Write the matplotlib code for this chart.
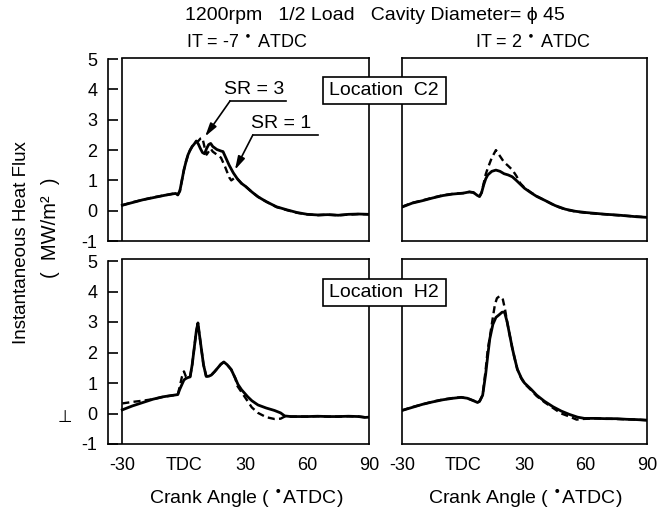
import matplotlib
matplotlib.use("Agg")
import matplotlib.pyplot as plt
from matplotlib.patches import Rectangle

plt.rcParams['font.family'] = ['Liberation Sans', 'DejaVu Sans']

# ---------------- data ----------------
# Top-left: Location C2, IT = -7 ATDC
c2a_sr1_x = [-30, -25, -20, -15, -10, -6, -4, -3, -2, -1, 0, 1, 2, 3, 4, 5, 6, 7, 8, 9, 10, 11, 12, 13, 14, 16, 18, 19, 20, 22, 24, 26, 28, 30, 33, 36, 40, 45, 50, 55, 60, 65, 70, 75, 80, 85, 90]
c2a_sr1_y = [0.18, 0.27, 0.36, 0.43, 0.50, 0.55, 0.57, 0.52, 0.65, 1.00, 1.35, 1.62, 1.85, 2.00, 2.12, 2.20, 2.30, 2.20, 2.05, 1.92, 1.88, 2.05, 2.18, 2.22, 2.12, 2.02, 1.97, 1.95, 1.80, 1.50, 1.25, 1.05, 0.90, 0.80, 0.62, 0.46, 0.30, 0.13, 0.03, -0.06, -0.12, -0.14, -0.13, -0.15, -0.12, -0.11, -0.12]
c2a_sr3_x = [-30, -25, -20, -15, -10, -6, -4, -3, -2, -1, 0, 1, 2, 3, 4, 5, 6, 7, 8, 9, 10, 11, 12, 13, 14, 16, 18, 20, 22, 23, 24, 25, 26, 28, 30, 33, 36, 40, 45, 50, 55, 60, 65, 70, 75, 80, 85, 90]
c2a_sr3_y = [0.18, 0.28, 0.36, 0.44, 0.50, 0.55, 0.58, 0.53, 0.66, 1.00, 1.35, 1.62, 1.85, 2.00, 2.12, 2.20, 2.28, 2.30, 2.38, 2.40, 2.10, 1.85, 1.95, 2.05, 1.95, 1.85, 1.75, 1.45, 1.10, 1.00, 1.05, 1.10, 1.05, 0.90, 0.80, 0.62, 0.46, 0.30, 0.12, 0.02, -0.07, -0.12, -0.15, -0.13, -0.15, -0.13, -0.11, -0.12]

# Top-right: Location C2, IT = 2 ATDC
c2b_sr1_x = [-30, -25, -20, -15, -10, -5, 0, 3, 5, 7, 8, 9, 10, 11, 12, 14, 16, 18, 20, 22, 24, 26, 28, 30, 33, 36, 40, 45, 50, 55, 60, 65, 70, 75, 80, 85, 90]
c2b_sr1_y = [0.12, 0.25, 0.33, 0.42, 0.50, 0.55, 0.58, 0.62, 0.60, 0.50, 0.47, 0.60, 0.85, 1.05, 1.18, 1.30, 1.34, 1.30, 1.22, 1.18, 1.12, 1.00, 0.87, 0.74, 0.60, 0.47, 0.34, 0.17, 0.05, -0.02, -0.06, -0.09, -0.12, -0.14, -0.17, -0.20, -0.22]
c2b_sr3_x = [-30, -25, -20, -15, -10, -5, 0, 3, 5, 7, 8, 9, 10, 11, 12, 14, 16, 18, 20, 22, 24, 26, 28, 30, 33, 36, 40, 45, 50, 55, 60, 65, 70, 75, 80, 85, 90]
c2b_sr3_y = [0.13, 0.26, 0.34, 0.43, 0.51, 0.56, 0.58, 0.62, 0.60, 0.50, 0.47, 0.60, 0.90, 1.20, 1.40, 1.75, 2.00, 1.80, 1.60, 1.48, 1.35, 1.15, 0.90, 0.76, 0.61, 0.48, 0.34, 0.16, 0.04, -0.03, -0.07, -0.10, -0.12, -0.15, -0.17, -0.19, -0.22]

# Bottom-left: Location H2, IT = -7 ATDC
h2a_sr1_x = [-30, -25, -20, -15, -10, -5, -3, -2, -1, 0, 1, 2, 3, 4, 5, 6, 6.8, 7.5, 8.4, 9.5, 10.8, 12, 13.3, 15, 16.5, 18, 19.4, 21, 23, 25, 26.3, 28, 31, 33, 36, 40, 44, 47, 49, 52, 55, 60, 65, 70, 75, 80, 85, 88, 90]
h2a_sr1_y = [0.12, 0.25, 0.36, 0.47, 0.55, 0.60, 0.62, 0.80, 0.95, 1.10, 1.15, 1.18, 1.20, 1.60, 2.15, 2.70, 2.97, 2.60, 2.15, 1.60, 1.22, 1.22, 1.26, 1.38, 1.50, 1.62, 1.69, 1.60, 1.44, 1.15, 0.95, 0.78, 0.55, 0.42, 0.28, 0.18, 0.10, 0.02, -0.08, -0.10, -0.10, -0.10, -0.09, -0.10, -0.10, -0.09, -0.10, -0.13, -0.12]
h2a_sr3_x = [-30, -25, -20, -15, -10, -5, -3, -2, -1, 0, 1, 2, 3, 4, 5, 6, 6.8, 7.5, 8.4, 9.5, 10.8, 12, 13.3, 15, 16.5, 18, 19.4, 20, 23, 25, 26, 28, 31, 33, 36, 40, 44, 47, 49, 52, 55, 60, 65, 70, 75, 80, 85, 88, 90]
h2a_sr3_y = [0.33, 0.38, 0.42, 0.47, 0.55, 0.60, 0.62, 0.90, 1.20, 1.38, 1.20, 1.18, 1.20, 1.60, 2.15, 2.70, 2.95, 2.60, 2.15, 1.60, 1.22, 1.22, 1.26, 1.38, 1.50, 1.62, 1.68, 1.68, 1.44, 1.15, 0.90, 0.70, 0.40, 0.20, 0.02, -0.12, -0.18, -0.17, -0.10, -0.10, -0.10, -0.10, -0.09, -0.10, -0.10, -0.09, -0.10, -0.12, -0.12]

# Bottom-right: Location H2, IT = 2 ATDC
h2b_sr1_x = [-30, -25, -20, -15, -10, -5, -1, 2, 5, 7, 8, 9.5, 11, 12, 13, 14.5, 16, 17.8, 19, 20.2, 21.5, 22.7, 24, 25.1, 26.5, 28.4, 30, 33.3, 36, 39.8, 44, 48, 52, 56, 59.3, 65, 70, 75, 80, 85, 90]
h2b_sr1_y = [0.10, 0.20, 0.30, 0.38, 0.45, 0.50, 0.53, 0.50, 0.42, 0.36, 0.40, 0.60, 1.30, 1.90, 2.45, 2.92, 3.15, 3.25, 3.32, 3.33, 3.00, 2.59, 2.15, 1.83, 1.45, 1.17, 1.00, 0.79, 0.60, 0.40, 0.22, 0.08, -0.03, -0.12, -0.16, -0.16, -0.17, -0.17, -0.19, -0.20, -0.22]
h2b_sr3_x = [-30, -25, -20, -15, -10, -5, -1, 2, 5, 7, 8, 9.5, 11, 12, 13, 14.5, 15.5, 16.5, 17.8, 19.4, 20.5, 21.5, 22.7, 24, 25.1, 26.5, 28.4, 30, 33.3, 36, 39.8, 44, 48, 52, 55.5, 58, 62, 65, 70, 75, 80, 85, 90]
h2b_sr3_y = [0.10, 0.21, 0.30, 0.39, 0.46, 0.51, 0.53, 0.50, 0.42, 0.36, 0.40, 0.60, 1.45, 2.10, 2.50, 3.15, 3.57, 3.78, 3.85, 3.74, 3.40, 3.00, 2.59, 2.15, 1.83, 1.45, 1.15, 0.98, 0.76, 0.57, 0.37, 0.18, 0.00, -0.10, -0.20, -0.18, -0.17, -0.16, -0.17, -0.18, -0.19, -0.20, -0.22]

x_ticks = [-30, 0, 30, 60, 90]
x_tick_labels = ['-30', 'TDC', '30', '60', '90']
y_ticks = [-1, 0, 1, 2, 3, 4, 5]
y_tick_labels = ['-1', '0', '1', '2', '3', '4', '5']

title = "1200rpm   1/2 Load   Cavity Diameter= \u03d5 45"
col_titles = ["IT = -7 $^{\\bullet}$ ATDC", "IT = 2 $^{\\bullet}$ ATDC"]
row_labels = ["Location  C2", "Location  H2"]
xlabel = "Crank Angle ( $^{\\bullet}$ATDC)"
ylabel1 = "Instantaneous Heat Flux"
ylabel2 = "(  MW/m\u00b2  )"

# ---------------- figure ----------------
W, H = 671, 515
fig = plt.figure(figsize=(W / 100, H / 100), dpi=100)

def frac(x0, y0, x1, y1):
    return [x0 / W, 1 - y1 / H, (x1 - x0) / W, (y1 - y0) / H]

LW = 2.0
SPW = 1.2
FS_TICK = 13
FS_TEXT = 14

def style_common(ax, show_xlabels):
    if show_xlabels:
        ax.set_xticks(x_ticks, x_tick_labels)
        ax.tick_params(axis='x', length=0, pad=9, labelsize=FS_TICK)
        ax.set_xticks([0, 30, 60], minor=True)
        ax.tick_params(axis='x', which='minor', direction='in', length=6, width=SPW)
    else:
        ax.set_xticks([])
    for s in ax.spines.values():
        s.set_linewidth(SPW)

def style_left(ax, show_xlabels):
    ax.set_xlim(-36.8, 90)
    ax.set_ylim(-1, 5.05)
    ax.spines['left'].set_bounds(-1, 5)
    ax.spines['top'].set_bounds(-30, 90)
    ax.axvline(-30, color='black', lw=SPW)
    ax.set_yticks(y_ticks, y_tick_labels)
    ax.tick_params(axis='y', direction='in', length=7, width=SPW, pad=8, labelsize=FS_TICK)
    style_common(ax, show_xlabels)

def style_right(ax, show_xlabels):
    ax.set_xlim(-30, 90)
    ax.set_ylim(-1, 5.05)
    ax.set_yticks([])
    style_common(ax, show_xlabels)

ax_tl = fig.add_axes(frac(108.3, 241 - 6.05 * 30.3, 369, 241))
ax_tr = fig.add_axes(frac(402, 241 - 6.05 * 30.3, 647, 241))
ax_bl = fig.add_axes(frac(108.3, 444 - 6.05 * 30.5, 369, 444))
ax_br = fig.add_axes(frac(402, 444 - 6.05 * 30.5, 647, 444))

style_left(ax_tl, False)
style_right(ax_tr, False)
style_left(ax_bl, True)
style_right(ax_br, True)

dash = (0, (3.0, 1.8))
pairs = [
    (ax_tl, c2a_sr1_x, c2a_sr1_y, c2a_sr3_x, c2a_sr3_y),
    (ax_tr, c2b_sr1_x, c2b_sr1_y, c2b_sr3_x, c2b_sr3_y),
    (ax_bl, h2a_sr1_x, h2a_sr1_y, h2a_sr3_x, h2a_sr3_y),
    (ax_br, h2b_sr1_x, h2b_sr1_y, h2b_sr3_x, h2b_sr3_y),
]
for ax, x1, y1, x3, y3 in pairs:
    ax.plot(x3, y3, color='black', lw=LW * 0.85, linestyle=dash)
    ax.plot(x1, y1, color='black', lw=LW)

# SR annotations (top-left)
arrow_style = dict(arrowstyle='-|>,head_length=0.8,head_width=0.22', color='black', lw=1.2,
                   shrinkA=0, shrinkB=0)
ax_tl.text(34.0, 4.0, "SR = 3", ha='center', va='center', fontsize=FS_TEXT)
ax_tl.plot([22.4, 49.6], [3.62, 3.62], color='black', lw=1.2)
ax_tl.annotate("", xy=(10.3, 2.45), xytext=(22.4, 3.62), arrowprops=arrow_style)
ax_tl.text(47.2, 2.87, "SR = 1", ha='center', va='center', fontsize=FS_TEXT)
ax_tl.plot([33.5, 65.1], [2.5, 2.5], color='black', lw=1.2)
ax_tl.annotate("", xy=(24.8, 1.35), xytext=(33.5, 2.5), arrowprops=arrow_style)

# Text
fig.text(375 / W, 1 - 16 / H, title, ha='center', va='center', fontsize=14)
fig.text(247 / W, 1 - 43 / H, col_titles[0], ha='center', va='center', fontsize=13)
fig.text(533 / W, 1 - 43 / H, col_titles[1], ha='center', va='center', fontsize=13)
fig.text(22 / W, 1 - 243 / H, ylabel1, ha='center', va='center', rotation=90, fontsize=13.5)
fig.text(50 / W, 1 - 228 / H, ylabel2, ha='center', va='center', rotation=90, fontsize=14.5)
fig.text(65 / W, 1 - 417 / H, "\u22a5", ha='center', va='center', fontsize=12)
fig.text(246 / W, 1 - 498 / H, xlabel, ha='center', va='center', fontsize=FS_TEXT)
fig.text(525 / W, 1 - 498 / H, xlabel, ha='center', va='center', fontsize=FS_TEXT)

# Location boxes
for (cy, label) in [(90.5, row_labels[0]), (292.7, row_labels[1])]:
    fig.patches.append(Rectangle((322.7 / W, 1 - (cy + 13.5) / H), 123 / W, 27 / H,
                                 transform=fig.transFigure, fc='white', ec='black', lw=1.2,
                                 zorder=10))
    fig.text(384 / W, 1 - cy / H, label, ha='center', va='center', fontsize=FS_TEXT, zorder=11)

fig.savefig("out.png", dpi=100)
